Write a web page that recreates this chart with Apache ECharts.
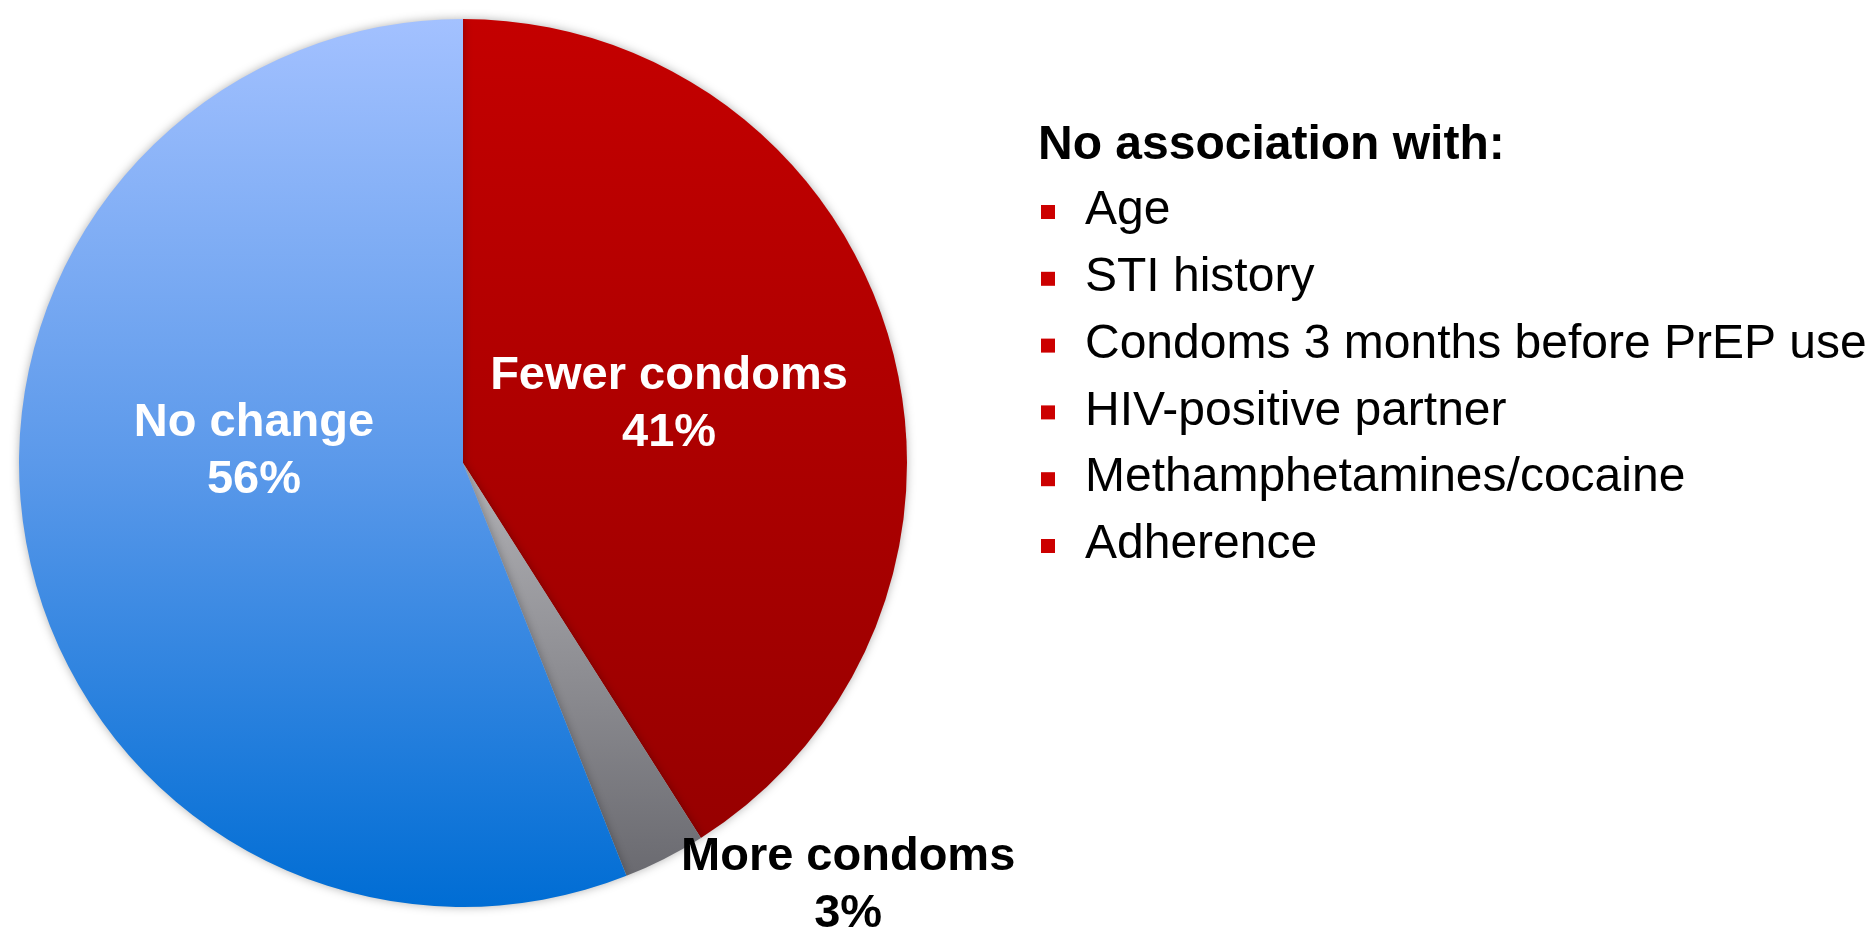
<!DOCTYPE html>
<html>
<head>
<meta charset="utf-8">
<title>Condom use after PrEP start</title>
<script src="https://cdn.jsdelivr.net/npm/echarts@6/dist/echarts.min.js"></script>
<style>
  html, body { margin: 0; padding: 0; background: #ffffff; }
  #chart { width: 1870px; height: 929px; }
</style>
</head>
<body>
<div id="chart"></div>
<script>
// Share of participants by change in condom use
const categories = ['Fewer condoms', 'More condoms', 'No change'];
const shares = [41, 3, 56];

// Factors with no association
const listHeading = 'No association with:';
const factors = [
  'Age',
  'STI history',
  'Condoms 3 months before PrEP use',
  'HIV-positive partner',
  'Methamphetamines/cocaine',
  'Adherence'
];

const FONT = "'Liberation Sans', Arial, Helvetica, sans-serif";

const grad = (top, bottom) => new echarts.graphic.LinearGradient(0, 0, 0, 1, [
  { offset: 0, color: top },
  { offset: 1, color: bottom }
]);

const sliceStyles = [
  { // Fewer condoms
    fill: grad('#c40000', '#970000'),
    label: { color: '#ffffff', offset: [-10, 4] }
  },
  { // More condoms
    fill: grad('#b2b2b6', '#6a6a70'),
    label: { color: '#000000', offset: [283, 222] }
  },
  { // No change
    fill: new echarts.graphic.LinearGradient(0, 0, 0, 1, [
      { offset: 0, color: '#a3c1ff' },
      { offset: 0.5, color: '#5b99ea' },
      { offset: 1, color: '#006dd4' }
    ]),
    label: { color: '#ffffff', offset: [12, -54] }
  }
];

const pieData = categories.map((name, i) => ({
  name,
  value: shares[i],
  itemStyle: { color: sliceStyles[i].fill },
  label: sliceStyles[i].label
}));

// Bulleted list on the right
const listX = 1041;
const textX = 1085;
const headingTop = 122;
const firstRowY = 211;
const rowStep = 66.8;
const graphics = [{
  type: 'text',
  left: 1038,
  top: headingTop,
  style: {
    text: listHeading,
    font: 'bold 48px ' + FONT,
    fill: '#000000'
  }
}];
factors.forEach((f, i) => {
  const cy = firstRowY + i * rowStep;
  graphics.push({
    type: 'rect',
    shape: { x: listX, y: cy - 6, width: 14, height: 14 },
    style: { fill: '#cc0000' }
  });
  graphics.push({
    type: 'text',
    x: textX,
    y: cy,
    style: {
      text: f,
      font: '48px ' + FONT,
      fill: '#000000',
      verticalAlign: 'middle',
      align: 'left'
    }
  });
});

const chart = echarts.init(document.getElementById('chart'));
chart.setOption({
  animation: false,
  backgroundColor: '#ffffff',
  series: [{
    type: 'pie',
    center: [463, 463],
    radius: 444,
    startAngle: 90,
    clockwise: true,
    silent: true,
    avoidLabelOverlap: false,
    itemStyle: {
      borderWidth: 0,
      shadowBlur: 10,
      shadowColor: 'rgba(0,0,0,0.3)'
    },
    label: {
      show: true,
      position: 'inside',
      formatter: '{b}\n{c}%',
      fontFamily: FONT,
      fontWeight: 'bold',
      fontSize: 47,
      lineHeight: 57,
      align: 'center'
    },
    labelLine: { show: false },
    data: pieData
  }],
  graphic: graphics
});
</script>
</body>
</html>
